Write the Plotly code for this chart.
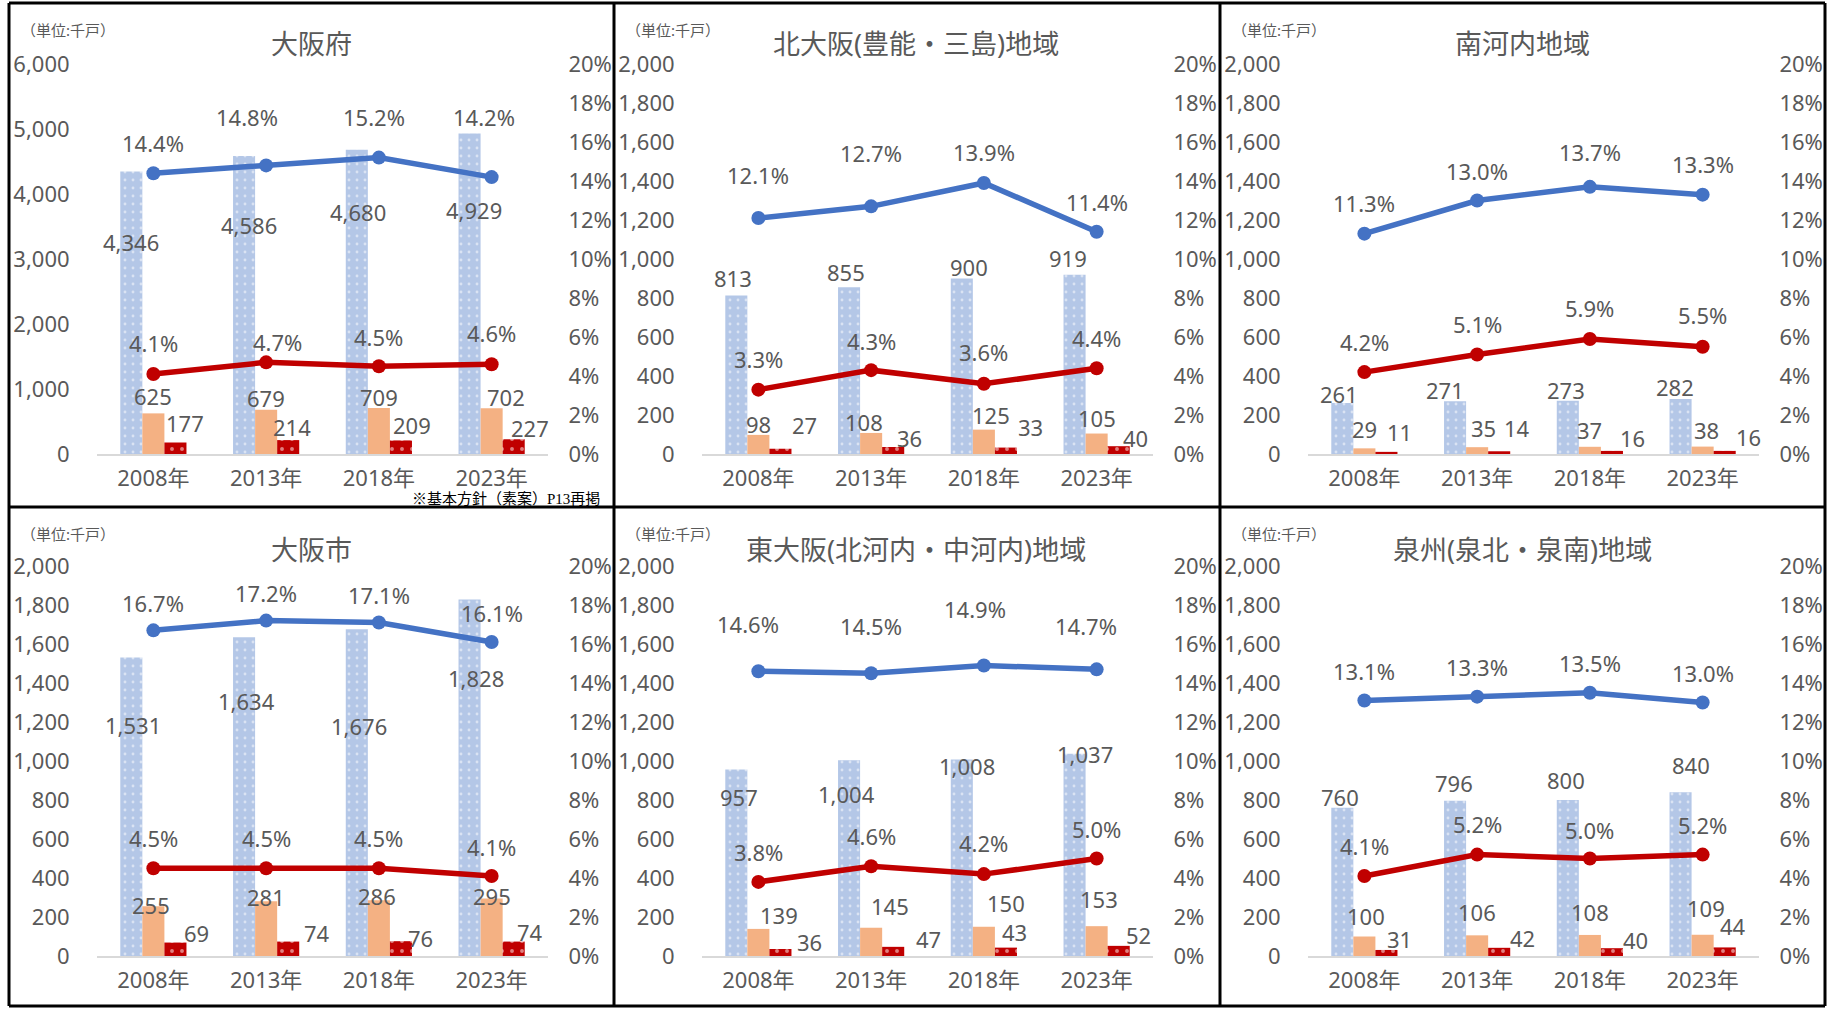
import plotly.graph_objects as go

# ---------------- data ----------------
YEARS = ["2008年", "2013年", "2018年", "2023年"]
PANEL_TITLES = ["大阪府", "北大阪(豊能・三島)地域", "南河内地域",
                "大阪市", "東大阪(北河内・中河内)地域", "泉州(泉北・泉南)地域"]
LEFT_MAX = [6000, 2000, 2000, 2000, 2000, 2000]
LEFT_STEP = [1000, 200, 200, 200, 200, 200]
RIGHT_MAX_PCT = 20
RIGHT_STEP_PCT = 2

BLUE_BARS = [[4346, 4586, 4680, 4929], [813, 855, 900, 919], [261, 271, 273, 282],
             [1531, 1634, 1676, 1828], [957, 1004, 1008, 1037], [760, 796, 800, 840]]
ORANGE_BARS = [[625, 679, 709, 702], [98, 108, 125, 105], [29, 35, 37, 38],
               [255, 281, 286, 295], [139, 145, 150, 153], [100, 106, 108, 109]]
RED_BARS = [[177, 214, 209, 227], [27, 36, 33, 40], [11, 14, 16, 16],
            [69, 74, 76, 74], [36, 47, 43, 52], [31, 42, 40, 44]]
BLUE_RATE = [[14.4, 14.8, 15.2, 14.2], [12.1, 12.7, 13.9, 11.4], [11.3, 13.0, 13.7, 13.3],
             [16.7, 17.2, 17.1, 16.1], [14.6, 14.5, 14.9, 14.7], [13.1, 13.3, 13.5, 13.0]]
RED_RATE = [[4.1, 4.7, 4.5, 4.6], [3.3, 4.3, 3.6, 4.4], [4.2, 5.1, 5.9, 5.5],
            [4.5, 4.5, 4.5, 4.1], [3.8, 4.6, 4.2, 5.0], [4.1, 5.2, 5.0, 5.2]]

UNIT_TEXT = "（単位:千戸）"
FOOTNOTE = "※基本方針（素案）P13再掲"

# label pixel shifts (dx, dy) relative to category centre / mark top
LBL_BLUE = [[(-22, -70), (-17, -69), (-21, -62), (-18, -76)],
            [(-25, 17), (-25, 15), (-15, 12), (-29, 17)],
            [(-25, 9), (-32, 11), (-24, 11), (-28, 12)],
            [(-20, -68), (-20, -64), (-20, -97), (-16, -78)],
            [(-19, -28), (-25, -34), (-17, -7), (-12, 0)],
            [(-24, 11), (-23, 18), (-24, 20), (-12, 27)]]
LBL_ORANGE = [[(0, 17), (0, 12), (0, 11), (14, 11)],
              [(0, 11), (-7, 11), (7, 15), (0, 16)],
              [(0, 19), (6, 19), (0, 17), (4, 17)],
              [(-2, 1), (0, 4), (-2, 4), (0, 2)],
              [(21, 14), (19, 22), (22, 24), (2, 27)],
              [(2, 21), (0, 23), (0, 23), (3, 27)]]
LBL_RED = [[(32, 20), (26, 13), (33, 15), (38, 11)],
           [(46, 24), (38, 9), (47, 21), (39, 8)],
           [(35, 20), (40, 23), (43, 13), (46, 14)],
           [(43, 10), (51, 9), (42, 3), (38, 10)],
           [(51, 7), (57, 8), (31, 16), (42, 11)],
           [(35, 11), (45, 10), (46, 8), (30, 21)]]
LBL_BLINE = [[(0, 30), (-19, 48), (-5, 41), (-8, 60)],
             [(0, 43), (0, 53), (0, 31), (0, 30)],
             [(0, 31), (0, 30), (0, 35), (0, 31)],
             [(0, 27), (0, 28), (0, 28), (0, 29)],
             [(-10, 47), (0, 47), (-9, 56), (-11, 43)],
             [(0, 30), (0, 30), (0, 30), (0, 30)]]
LBL_RLINE = [[(0, 31), (11, 20), (0, 29), (0, 31)],
             [(0, 31), (0, 29), (0, 32), (0, 30)],
             [(0, 30), (0, 31), (0, 31), (0, 32)],
             [(0, 30), (0, 30), (0, 30), (0, 29)],
             [(0, 30), (0, 30), (0, 31), (0, 30)],
             [(0, 30), (0, 31), (0, 29), (0, 30)]]

# ---------------- layout geometry (pixels) ----------------
W, H = 1831, 1009
PANEL_LEFT = [9, 614, 1220]
PANEL_RIGHT = 1825
ROW_TOP = [3, 507]
BOTTOM = 1006
PLOT_X_OFF = (88, 539)
PLOT_Y = [(64, 454), (566, 956)]

TXT = "#595959"
FONT = "Noto Sans, Noto Sans CJK JP, sans-serif"
C_BLUE_BAR = "#B4C7E7"
C_ORANGE = "#F4B183"
C_RED = "#C00000"
C_BLUE_LINE = "#4472C4"
LBL_SIZE = 22


def px(x):
    return x / W


def py(y):
    return 1 - y / H


fig = go.Figure()
annotations = []
layout_axes = {}

for k in range(6):
    col, row = k % 3, k // 3
    xname = f"x{k + 1}"
    ybar = f"y{2 * k + 1}"
    yline = f"y{2 * k + 2}"
    pl = PANEL_LEFT[col]
    x0, x1 = pl + PLOT_X_OFF[0], pl + PLOT_X_OFF[1]
    ytop, ybot = PLOT_Y[row]

    fig.add_trace(go.Bar(x=YEARS, y=BLUE_BARS[k], xaxis=xname, yaxis=ybar,
                         marker=dict(color=C_BLUE_BAR, line=dict(width=0),
                                     pattern=dict(shape=".", fgcolor="white", bgcolor=C_BLUE_BAR,
                                                  size=8, solidity=0.1)),
                         hoverinfo="skip", showlegend=False))
    fig.add_trace(go.Bar(x=YEARS, y=ORANGE_BARS[k], xaxis=xname, yaxis=ybar,
                         marker=dict(color=C_ORANGE, line=dict(width=0)),
                         hoverinfo="skip", showlegend=False))
    fig.add_trace(go.Bar(x=YEARS, y=RED_BARS[k], xaxis=xname, yaxis=ybar,
                         marker=dict(color=C_RED, line=dict(width=0),
                                     pattern=dict(shape=".", fgcolor="white", bgcolor=C_RED,
                                                  size=10, solidity=0.12)),
                         hoverinfo="skip", showlegend=False))
    fig.add_trace(go.Scatter(x=YEARS, y=[v / 100 for v in BLUE_RATE[k]], xaxis=xname, yaxis=yline,
                             mode="lines+markers", line=dict(color=C_BLUE_LINE, width=5.5),
                             marker=dict(size=14, color=C_BLUE_LINE),
                             hoverinfo="skip", showlegend=False))
    fig.add_trace(go.Scatter(x=YEARS, y=[v / 100 for v in RED_RATE[k]], xaxis=xname, yaxis=yline,
                             mode="lines+markers", line=dict(color=C_RED, width=5.5),
                             marker=dict(size=14, color=C_RED),
                             hoverinfo="skip", showlegend=False))

    tickfont = dict(family=FONT, size=22, color=TXT)
    layout_axes["xaxis" + ("" if k == 0 else str(k + 1))] = dict(
        domain=[px(x0), px(x1)], anchor=ybar, type="category", range=[-0.5, 3.5],
        showline=True, linecolor="#D9D9D9", linewidth=2, showgrid=False, zeroline=False,
        ticks="outside", ticklen=4, tickcolor="rgba(0,0,0,0)", tickfont=tickfont,
        automargin=False, fixedrange=True)
    layout_axes["yaxis" + ("" if k == 0 else str(2 * k + 1))] = dict(
        domain=[py(ybot), py(ytop)], anchor=xname, range=[0, LEFT_MAX[k]], dtick=LEFT_STEP[k],
        tick0=0, tickformat=",", showgrid=False, zeroline=False, showline=False,
        ticks="outside", ticklen=22, tickcolor="rgba(0,0,0,0)", tickfont=tickfont,
        automargin=False, fixedrange=True)
    layout_axes["yaxis" + str(2 * k + 2)] = dict(
        overlaying=ybar, side="right", anchor=xname,
        range=[0, RIGHT_MAX_PCT / 100], dtick=RIGHT_STEP_PCT / 100, tick0=0, tickformat=".0%",
        showgrid=False, zeroline=False, showline=False,
        ticks="outside", ticklen=15, tickcolor="rgba(0,0,0,0)", tickfont=tickfont,
        automargin=False, fixedrange=True)

    # data labels
    series = [(BLUE_BARS[k], LBL_BLUE[k], ybar, lambda v: f"{v:,}"),
              (ORANGE_BARS[k], LBL_ORANGE[k], ybar, lambda v: f"{v:,}"),
              (RED_BARS[k], LBL_RED[k], ybar, lambda v: f"{v:,}"),
              ([v / 100 for v in BLUE_RATE[k]], LBL_BLINE[k], yline, lambda v: f"{v * 100:.1f}%"),
              ([v / 100 for v in RED_RATE[k]], LBL_RLINE[k], yline, lambda v: f"{v * 100:.1f}%")]
    for vals, shifts, yref, fmt in series:
        for i, v in enumerate(vals):
            dx, dy = shifts[i]
            annotations.append(dict(x=YEARS[i], y=v, xref=xname, yref=yref, text=fmt(v),
                                    showarrow=False, xshift=dx, yshift=dy,
                                    xanchor="center", yanchor="middle",
                                    font=dict(family=FONT, size=LBL_SIZE, color=TXT)))

    # unit + title
    annotations.append(dict(x=px(pl + 10), y=py(ROW_TOP[row] + 27), xref="paper", yref="paper",
                            text=UNIT_TEXT, showarrow=False, xanchor="left", yanchor="middle",
                            font=dict(family=FONT, size=15, color=TXT)))
    annotations.append(dict(x=px(pl + 302), y=py(ROW_TOP[row] + 40 + 2 * row), xref="paper", yref="paper",
                            text=PANEL_TITLES[k], showarrow=False, xanchor="center", yanchor="middle",
                            font=dict(family=FONT, size=27, color=TXT)))

annotations.append(dict(x=px(602), y=py(499), xref="paper", yref="paper", text=FOOTNOTE,
                        showarrow=False, xanchor="right", yanchor="middle",
                        font=dict(family="Liberation Serif, Noto Sans CJK JP, serif", size=15, color="#000000")))

# panel frame
shapes = []
for xv in PANEL_LEFT + [PANEL_RIGHT]:
    shapes.append(dict(type="line", xref="paper", yref="paper", x0=px(xv), x1=px(xv),
                       y0=py(ROW_TOP[0]), y1=py(BOTTOM), line=dict(color="black", width=3)))
for yv in ROW_TOP + [BOTTOM]:
    shapes.append(dict(type="line", xref="paper", yref="paper", x0=px(PANEL_LEFT[0]), x1=px(PANEL_RIGHT),
                       y0=py(yv), y1=py(yv), line=dict(color="black", width=3)))

fig.update_layout(width=W, height=H, margin=dict(l=0, r=0, t=0, b=0, autoexpand=False),
                  paper_bgcolor="white", plot_bgcolor="rgba(0,0,0,0)",
                  barmode="group", bargap=0.413, bargroupgap=0,
                  annotations=annotations, shapes=shapes, showlegend=False,
                  font=dict(family=FONT, color=TXT), **layout_axes)

POST = ("document.body.style.margin='0';document.body.style.padding='0';"
        "var d=document.getElementById('{plot_id}');"
        "d.style.position='absolute';d.style.left='0px';d.style.top='0px';")
fig.write_html("out.html", config={"displayModeBar": False}, post_script=POST)
